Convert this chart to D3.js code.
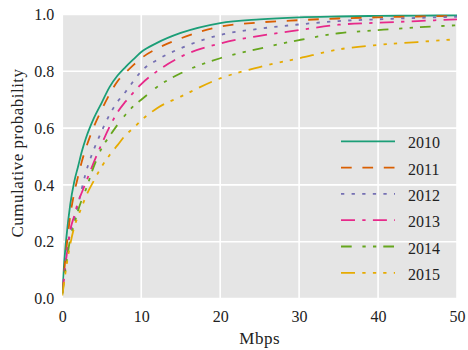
<!DOCTYPE html>
<html>
<head>
<meta charset="utf-8">
<script src="https://cdn.jsdelivr.net/npm/d3@7"></script>
<style>
  body { margin: 0; background: #fff; }
  text { font-family: "Liberation Serif", serif; fill: #222; }
</style>
</head>
<body>
<div id="chart"></div>
<script>
// years shown in the legend
const years = ["2010", "2011", "2012", "2013", "2014", "2015"];

// Mbps sample points, shared by every series
const mbps = [0, 0.25, 0.5, 1, 1.5, 2, 2.5, 3, 4, 5, 6, 7, 8, 9, 10, 12, 15, 20, 25, 30, 35, 40, 45, 50];

// cumulative probability for each year
const cdf2010 = [0.03, 0.13, 0.21, 0.33, 0.41, 0.465, 0.52, 0.565, 0.635, 0.69, 0.745, 0.785, 0.815, 0.842, 0.868, 0.9, 0.935, 0.97, 0.983, 0.99, 0.993, 0.995, 0.996, 0.997];
const cdf2011 = [0.02, 0.1, 0.17, 0.29, 0.37, 0.43, 0.485, 0.53, 0.605, 0.665, 0.72, 0.765, 0.795, 0.822, 0.846, 0.88, 0.916, 0.957, 0.972, 0.98, 0.986, 0.99, 0.993, 0.995];
const cdf2012 = [0.02, 0.09, 0.15, 0.23, 0.28, 0.33, 0.39, 0.445, 0.525, 0.59, 0.648, 0.693, 0.727, 0.765, 0.8, 0.84, 0.881, 0.928, 0.95, 0.965, 0.977, 0.983, 0.988, 0.992];
const cdf2013 = [0.02, 0.08, 0.14, 0.24, 0.29, 0.34, 0.375, 0.41, 0.48, 0.545, 0.605, 0.656, 0.693, 0.725, 0.755, 0.8, 0.851, 0.898, 0.925, 0.945, 0.964, 0.971, 0.977, 0.983];
const cdf2014 = [0.015, 0.07, 0.12, 0.21, 0.26, 0.31, 0.35, 0.385, 0.465, 0.53, 0.572, 0.612, 0.647, 0.677, 0.7, 0.745, 0.793, 0.846, 0.88, 0.91, 0.934, 0.945, 0.955, 0.962];
const cdf2015 = [0.01, 0.06, 0.11, 0.19, 0.25, 0.29, 0.325, 0.36, 0.415, 0.465, 0.505, 0.54, 0.575, 0.6, 0.627, 0.67, 0.711, 0.775, 0.815, 0.846, 0.877, 0.893, 0.903, 0.913];

const xTicks = [0, 10, 20, 30, 40, 50];
const yTicks = [0, 0.2, 0.4, 0.6, 0.8, 1.0];

const series = [cdf2010, cdf2011, cdf2012, cdf2013, cdf2014, cdf2015];
const colors = ["#1b9e77", "#d95f02", "#7570b3", "#e7298a", "#66a61e", "#e6ab02"];
const dashes = [
  null,
  "10.7,10.7",
  "3.3,7.3",
  "14,7.3,3.3,7.3",
  "10.7,10.7,3.3,7.3,3.3,7",
  "14,7.3,3.3,7.3,3.3,7,3.3,7.3"
];

const width = 468, height = 350;
const margin = { top: 14.5, right: 11, bottom: 51.5, left: 62.3 };
const w = width - margin.left - margin.right;
const h = height - margin.top - margin.bottom;

const svg = d3.select("#chart")
  .append("svg")
  .attr("width", width)
  .attr("height", height);

const g = svg.append("g")
  .attr("transform", "translate(" + margin.left + "," + margin.top + ")");

const x = d3.scaleLinear().domain([0, 50]).range([0, w]);
const y = d3.scaleLinear().domain([0, 1]).range([h, 0]);

// grey panel
g.append("rect")
  .attr("width", w)
  .attr("height", h)
  .attr("fill", "#e5e5e5");

// white grid
g.append("g").selectAll("line")
  .data(xTicks)
  .join("line")
  .attr("x1", d => x(d)).attr("x2", d => x(d))
  .attr("y1", 0).attr("y2", h)
  .attr("stroke", "#fff").attr("stroke-width", 1.6);
g.append("g").selectAll("line")
  .data(yTicks)
  .join("line")
  .attr("y1", d => y(d)).attr("y2", d => y(d))
  .attr("x1", 0).attr("x2", w)
  .attr("stroke", "#fff").attr("stroke-width", 1.6);

// axes (labels only)
const xAxis = g.append("g")
  .attr("transform", "translate(0," + h + ")")
  .call(d3.axisBottom(x).tickValues(xTicks).tickSize(0).tickPadding(8).tickFormat(d3.format("d")));
const yAxis = g.append("g")
  .call(d3.axisLeft(y).tickValues(yTicks).tickSize(0).tickPadding(8).tickFormat(d3.format(".1f")));
[xAxis, yAxis].forEach(a => {
  a.select(".domain").remove();
  a.selectAll("text")
    .style("font-family", "'Liberation Serif', serif")
    .style("font-size", "16px")
    .attr("fill", "#222");
});
xAxis.selectAll("text").attr("dy", "0.95em");

// axis titles
svg.append("text")
  .attr("x", margin.left + w / 2)
  .attr("y", 344)
  .attr("text-anchor", "middle")
  .style("font-size", "17px")
  .style("letter-spacing", "0.5px")
  .text("Mbps");
svg.append("text")
  .attr("transform", "translate(22.5,153) rotate(-90)")
  .attr("text-anchor", "middle")
  .style("font-size", "17px")
  .style("letter-spacing", "0.5px")
  .text("Cumulative probability");

// curves
g.append("clipPath").attr("id", "clip")
  .append("rect").attr("x", 0).attr("y", -2).attr("width", w).attr("height", h + 2);

const line = d3.line()
  .x(d => x(d[0]))
  .y(d => y(d[1]))
  .curve(d3.curveMonotoneX);

const lines = g.append("g").attr("clip-path", "url(#clip)");
series.forEach((vals, i) => {
  lines.append("path")
    .datum(mbps.map((m, j) => [m, vals[j]]))
    .attr("d", line)
    .attr("fill", "none")
    .attr("stroke", colors[i])
    .attr("stroke-width", 1.8)
    .attr("stroke-dasharray", dashes[i]);
});

// legend
const legend = svg.append("g").attr("transform", "translate(341,141.3)");
years.forEach((yr, i) => {
  const row = legend.append("g").attr("transform", "translate(0," + (i * 26.3) + ")");
  row.append("line")
    .attr("x1", 0).attr("x2", 54)
    .attr("stroke", colors[i])
    .attr("stroke-width", 1.8)
    .attr("stroke-dasharray", dashes[i]);
  row.append("text")
    .attr("x", 67)
    .attr("y", 7)
    .style("font-size", "16px")
    .text(yr);
});
</script>
</body>
</html>
